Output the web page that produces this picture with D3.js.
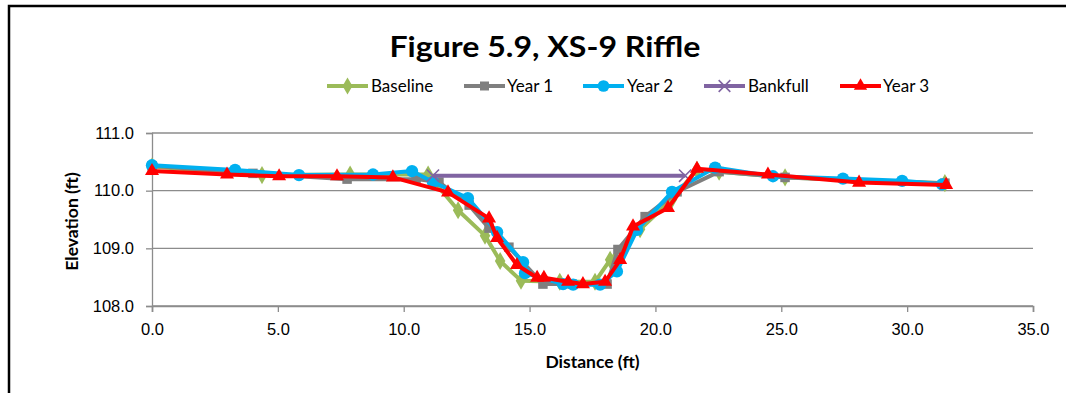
<!DOCTYPE html>
<html>
<head>
<meta charset="utf-8">
<script src="https://cdn.jsdelivr.net/npm/d3@7"></script>
<style>
  html, body { margin: 0; padding: 0; background: #fff; }
  svg { display: block; font-family: Lato, "Open Sans", sans-serif; }
  .tick text { font-variant-numeric: tabular-nums; }
</style>
</head>
<body>
<svg id="chart" width="1066" height="393"></svg>
<script>
// Cross-section survey, XS-9 riffle: distance (ft) vs elevation (ft)
const seriesNames = ["Baseline", "Year 1", "Year 2", "Bankfull", "Year 3"];
const seriesColors = ["#9BBB59", "#7F7F7F", "#00B0F0", "#8064A2", "#FF0000"];
const seriesMarkers = ["diamond", "square", "circle", "cross", "triangle"];

const baselineX = [0.0, 4.37, 7.87, 10.97, 12.16, 13.23, 13.83, 14.66, 16.2, 17.6, 18.2, 19.39, 20.66, 21.65, 22.53, 25.15, 31.5];
const baselineY = [110.42, 110.27, 110.28, 110.28, 109.66, 109.22, 108.78, 108.44, 108.42, 108.42, 108.80, 109.33, 109.85, 110.36, 110.33, 110.23, 110.13];

const year1X = [0.0, 4.01, 7.75, 10.49, 11.4, 12.6, 13.39, 14.18, 15.53, 16.69, 18.08, 18.51, 19.59, 20.86, 22.53, 25.15, 31.5];
const year1Y = [110.43, 110.30, 110.20, 110.20, 110.15, 109.75, 109.35, 109.02, 108.38, 108.38, 108.38, 108.98, 109.55, 109.98, 110.33, 110.23, 110.13];

const year2X = [0.0, 3.3, 5.84, 8.78, 10.33, 11.16, 12.55, 13.71, 14.74, 14.82, 16.33, 16.73, 17.8, 18.47, 19.27, 20.66, 22.37, 24.67, 27.45, 29.8, 31.39];
const year2Y = [110.44, 110.36, 110.27, 110.28, 110.34, 110.15, 109.87, 109.28, 108.76, 108.57, 108.38, 108.37, 108.37, 108.60, 109.32, 109.98, 110.40, 110.25, 110.21, 110.17, 110.11];

const bankfullX = [11.16, 21.18];
const bankfullY = [110.26, 110.26];

const year3X = [0.0, 2.98, 5.05, 7.35, 9.57, 11.76, 13.39, 13.71, 14.5, 15.3, 15.57, 16.53, 17.12, 18.0, 18.6, 19.11, 20.5, 21.65, 24.47, 28.09, 31.55];
const year3Y = [110.34, 110.28, 110.25, 110.25, 110.23, 109.97, 109.52, 109.18, 108.71, 108.49, 108.49, 108.42, 108.38, 108.42, 108.80, 109.38, 109.70, 110.38, 110.28, 110.14, 110.10];

const xTicks = [0, 5, 10, 15, 20, 25, 30, 35];
const yTicks = [108, 109, 110, 111];

const seriesX = [baselineX, year1X, year2X, bankfullX, year3X];
const seriesY = [baselineY, year1Y, year2Y, bankfullY, year3Y];

const svg = d3.select("#chart");

// Outer chart frame (left and top edges)
svg.append("path")
  .attr("d", "M9,393 V6 H1066")
  .attr("fill", "none")
  .attr("stroke", "#000")
  .attr("stroke-width", 2.5);

const plot = { left: 152, right: 1033, top: 133, bottom: 306 };

const x = d3.scaleLinear().domain([0, 35]).range([plot.left, plot.right]);
const y = d3.scaleLinear().domain([108, 111]).range([plot.bottom, plot.top]);

// Horizontal gridlines
svg.append("g")
  .selectAll("line")
  .data(yTicks)
  .join("line")
  .attr("x1", plot.left).attr("x2", plot.right)
  .attr("y1", d => y(d)).attr("y2", d => y(d))
  .attr("stroke", "#8C8C8C").attr("stroke-width", 1.3);

// Y axis
const yAxis = svg.append("g")
  .attr("transform", `translate(${plot.left},0)`)
  .call(d3.axisLeft(y).tickValues(yTicks).tickFormat(d3.format(".1f")).tickSize(6).tickPadding(12));
yAxis.select(".domain").attr("stroke", "#8C8C8C").attr("stroke-width", 1.3);
yAxis.selectAll(".tick line").attr("stroke", "#8C8C8C").attr("stroke-width", 1.3);
yAxis.selectAll("text").attr("font-size", 16.5).attr("fill", "#000");

// X axis
const xAxis = svg.append("g")
  .attr("transform", `translate(0,${plot.bottom})`)
  .call(d3.axisBottom(x).tickValues(xTicks).tickFormat(d3.format(".1f")).tickSize(6).tickPadding(11));
xAxis.select(".domain").attr("stroke", "#8C8C8C").attr("stroke-width", 1.6);
xAxis.selectAll(".tick line").attr("stroke", "#8C8C8C").attr("stroke-width", 1.3);
xAxis.selectAll("text").attr("font-size", 16.5).attr("fill", "#000");

// Titles
svg.append("text")
  .attr("x", 545).attr("y", 57)
  .attr("text-anchor", "middle")
  .attr("font-size", 28).attr("font-weight", "bold")
  .attr("textLength", 311).attr("lengthAdjust", "spacingAndGlyphs")
  .text("Figure 5.9, XS-9 Riffle");

svg.append("text")
  .attr("x", (plot.left + plot.right) / 2).attr("y", 368)
  .attr("text-anchor", "middle")
  .attr("font-size", 17.5).attr("font-weight", "bold")
  .text("Distance (ft)");

svg.append("text")
  .attr("transform", `translate(78,${(plot.top + plot.bottom) / 2 + 2}) rotate(-90)`)
  .attr("text-anchor", "middle")
  .attr("font-size", 17.5).attr("font-weight", "bold")
  .text("Elevation (ft)");

// Marker drawing helper
function drawMarker(g, type, color, cx, cy, scale = 1) {
  const t = `translate(${cx},${cy})`;
  if (type === "diamond") {
    g.append("path").attr("d", d3.symbol(d3.symbolDiamond, 95 * scale)())
      .attr("transform", t).attr("fill", color);
  } else if (type === "square") {
    g.append("path").attr("d", d3.symbol(d3.symbolSquare, 90 * scale)())
      .attr("transform", t).attr("fill", color);
  } else if (type === "circle") {
    g.append("path").attr("d", d3.symbol(d3.symbolCircle, 120 * scale)())
      .attr("transform", t).attr("fill", color);
  } else if (type === "triangle") {
    g.append("path").attr("d", d3.symbol(d3.symbolTriangle, 85 * scale)())
      .attr("transform", t).attr("fill", color);
  } else if (type === "cross") {
    g.append("path").attr("d", d3.symbol(d3.symbolX, 100 * scale)())
      .attr("transform", t)
      .attr("fill", "none").attr("stroke", color).attr("stroke-width", 1.6);
  }
}

const line = d3.line().x(d => x(d[0])).y(d => y(d[1]));

seriesNames.forEach((name, i) => {
  const pts = seriesX[i].map((v, k) => [v, seriesY[i][k]]);
  const g = svg.append("g").attr("class", "series");
  g.append("path").datum(pts)
    .attr("d", line)
    .attr("fill", "none")
    .attr("stroke", seriesColors[i])
    .attr("stroke-width", 4)
    .attr("stroke-linejoin", "round");
  pts.forEach(p => drawMarker(g, seriesMarkers[i], seriesColors[i], x(p[0]), y(p[1])));
});

// Legend
const legendItems = [
  { lx: 327, tx: 371 },
  { lx: 464, tx: 507 },
  { lx: 583, tx: 627 },
  { lx: 704, tx: 748 },
  { lx: 840, tx: 883 }
];
const legend = svg.append("g");
seriesNames.forEach((name, i) => {
  const it = legendItems[i];
  const ly = 86;
  legend.append("line")
    .attr("x1", it.lx).attr("x2", it.lx + 41)
    .attr("y1", ly).attr("y2", ly)
    .attr("stroke", seriesColors[i]).attr("stroke-width", 4);
  drawMarker(legend, seriesMarkers[i], seriesColors[i], it.lx + 20.5, ly, 0.9);
  legend.append("text")
    .attr("x", it.tx).attr("y", ly + 6)
    .attr("font-size", 17).attr("fill", "#000")
    .text(name);
});
</script>
</body>
</html>
